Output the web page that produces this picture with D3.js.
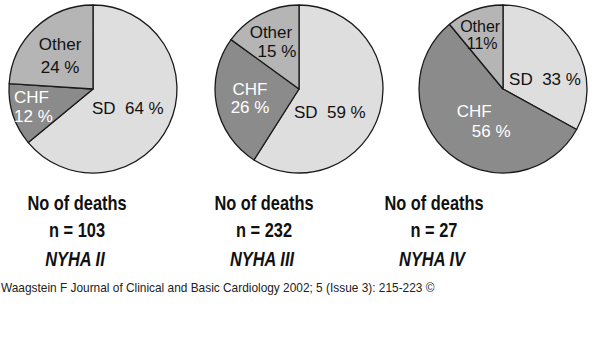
<!DOCTYPE html>
<html>
<head>
<meta charset="utf-8">
<script src="https://cdn.jsdelivr.net/npm/d3@7"></script>
<style>
  html, body { margin: 0; padding: 0; background: #fff; }
  svg { display: block; }
</style>
</head>
<body>
<svg id="chart" width="600" height="338"></svg>
<script>
// Causes of death by NYHA class (percent of deaths in each class)
const groups = ["NYHA  II", "NYHA III", "NYHA IV"];
const deaths = [103, 232, 27];
const causes = ["SD", "CHF", "Other"];
const sdPct = [64, 59, 33];
const chfPct = [12, 26, 56];
const otherPct = [24, 15, 11];
const pctText = [
  ["64 %", "12 %", "24 %"],
  ["59 %", "26 %", "15 %"],
  ["33 %", "56 %", "11%"]
];
const caption = "Waagstein F Journal of Clinical and Basic Cardiology 2002; 5 (Issue 3): 215-223 \u00A9";

// Layout
const W = 600, H = 338;
const radius = 84;
const centers = d3.scaleOrdinal().domain(groups).range([[93, 89], [299, 89], [503, 89]]);
const captionX = d3.scaleOrdinal().domain(groups).range([77, 264, 434]);
const fill = d3.scaleOrdinal().domain(causes).range(["#dedede", "#8b8b8b", "#b5b5b5"]);
const ink = d3.scaleOrdinal().domain(causes).range(["#111", "#fff", "#111"]);

// Label placement: angle tweak (deg) from slice middle, radius fraction,
// line gap, per-line horizontal shift, font size
const labelLayout = [
  { SD: [3, 0.47, 0, [0, 0], 17], CHF: [2, 0.75, 19, [-1, 1], 17], Other: [-1.6, 0.557, 23, [0, 0], 17] },
  { SD: [21, 0.46, 0, [0, 0], 17], CHF: [0, 0.594, 18, [0, 0], 17], Other: [-1, 0.636, 19, [-3, 3], 17] },
  { SD: [17.6, 0.513, 0, [0, 0], 17], CHF: [-7, 0.45, 20, [-8.5, 8.5], 17], Other: [-2, 0.7, 17.5, [-1, 1], 16] }
];

const svg = d3.select("#chart");
svg.append("rect").attr("width", W).attr("height", H).attr("fill", "#fff");

const pie = d3.pie().sort(null).value(d => d.value);
const arc = d3.arc().innerRadius(0).outerRadius(radius);

// Condensed bold caption text (horizontal squeeze of a regular face)
function narrowText(parent, x, y, str, italic) {
  return parent.append("text")
    .attr("transform", `translate(${x},${y}) scale(0.82,1)`)
    .attr("font-style", italic ? "italic" : null)
    .text(str);
}

groups.forEach((g, gi) => {
  const vals = [sdPct[gi], chfPct[gi], otherPct[gi]];
  const data = causes.map((c, ci) => ({ cause: c, value: vals[ci], label: pctText[gi][ci] }));
  const [cx, cy] = centers(g);
  const gEl = svg.append("g").attr("transform", `translate(${cx},${cy})`);
  const arcs = pie(data);

  gEl.selectAll("path.slice")
    .data(arcs)
    .join("path")
    .attr("class", "slice")
    .attr("d", arc)
    .attr("fill", d => fill(d.data.cause))
    .attr("stroke", "#1a1a1a")
    .attr("stroke-width", 1.3)
    .attr("stroke-linejoin", "round");

  arcs.forEach(a => {
    const [dAng, rf, gap, shifts, fs] = labelLayout[gi][a.data.cause];
    const ang = (a.startAngle + a.endAngle) / 2 + dAng * Math.PI / 180;
    const lx = Math.sin(ang) * rf * radius;
    const ly = -Math.cos(ang) * rf * radius;
    const lines = a.data.cause === "SD"
      ? [a.data.cause + "\u00A0\u00A0" + a.data.label]
      : [a.data.cause, a.data.label];
    const t = gEl.append("text")
      .attr("font-family", "'Liberation Sans', Arial, sans-serif")
      .attr("font-size", fs)
      .attr("fill", ink(a.data.cause))
      .attr("text-anchor", "middle")
      .attr("dominant-baseline", "central");
    lines.forEach((ln, li) => {
      const off = lines.length === 1 ? 0 : (li === 0 ? -gap / 2 : gap / 2);
      t.append("tspan")
        .attr("x", lx + shifts[li])
        .attr("y", ly + off)
        .text(ln);
    });
  });

  // Group captions under each pie
  const tx = captionX(g);
  const cap = svg.append("g")
    .attr("font-family", "'Liberation Sans', Arial, sans-serif")
    .attr("font-weight", "bold")
    .attr("font-size", 20)
    .attr("fill", "#111")
    .attr("text-anchor", "middle");
  narrowText(cap, tx, 210, "No of deaths", false);
  narrowText(cap, tx, 237, "n = " + deaths[gi], false);
  narrowText(cap, tx - 2, 266, g, true);
});

svg.append("text")
  .attr("x", 1)
  .attr("y", 292)
  .attr("font-family", "'Liberation Sans', Arial, sans-serif")
  .attr("font-size", 12)
  .attr("fill", "#222")
  .attr("transform", "translate(1,0) scale(0.99,1) translate(-1,0)")
  .text(caption);
</script>
</body>
</html>
